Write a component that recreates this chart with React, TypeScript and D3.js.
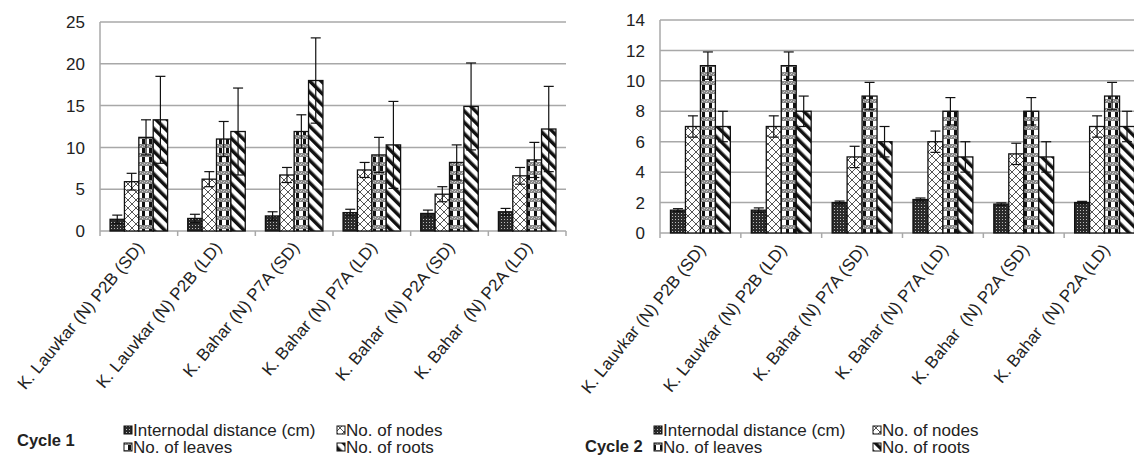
import React from 'react';
import * as d3 from 'd3';

const categories = [
  'K. Lauvkar (N) P2B (SD)',
  'K. Lauvkar (N) P2B (LD)',
  'K. Bahar (N) P7A (SD)',
  'K. Bahar (N) P7A (LD)',
  'K. Bahar  (N) P2A (SD)',
  'K. Bahar  (N) P2A (LD)',
];
const seriesNames = ['Internodal distance (cm)', 'No. of nodes', 'No. of leaves', 'No. of roots'];
const patternIds = ['pInter', 'pNodes', 'pLeaves', 'pRoots'];

// Cycle 1
const c1Internodal = [1.4, 1.5, 1.8, 2.2, 2.1, 2.3];
const c1Nodes = [5.9, 6.2, 6.7, 7.3, 4.4, 6.6];
const c1Leaves = [11.2, 11.0, 11.9, 9.1, 8.2, 8.5];
const c1Roots = [13.3, 11.9, 18.0, 10.3, 14.9, 12.2];
const c1InternodalErr = [0.5, 0.5, 0.5, 0.4, 0.4, 0.4];
const c1NodesErr = [1.0, 0.9, 0.9, 0.9, 0.9, 1.0];
const c1LeavesErr = [2.1, 2.1, 2.0, 2.1, 2.1, 2.1];
const c1RootsErr = [5.2, 5.2, 5.1, 5.2, 5.2, 5.1];
const c1Ticks = [0, 5, 10, 15, 20, 25];

// Cycle 2
const c2Internodal = [1.5, 1.5, 2.0, 2.2, 1.9, 2.0];
const c2Nodes = [7, 7, 5, 6, 5.2, 7];
const c2Leaves = [11, 11, 9, 8, 8, 9];
const c2Roots = [7, 8, 6, 5, 5, 7];
const c2InternodalErr = [0.1, 0.15, 0.1, 0.1, 0.08, 0.08];
const c2NodesErr = [0.7, 0.7, 0.7, 0.7, 0.7, 0.7];
const c2LeavesErr = [0.9, 0.9, 0.9, 0.9, 0.9, 0.9];
const c2RootsErr = [1, 1, 1, 1, 1, 1];
const c2Ticks = [0, 2, 4, 6, 8, 10, 12, 14];

const font = 'Liberation Sans, Arial, sans-serif';
const gridColor = '#a8a8a8';

function Panel({ values, errors, ticks, yMax, left, right, top, bottom, title, titleX, titleY, legendX, legendX2, angle }) {
  const x0 = d3.scaleBand().domain(categories).range([left, right]);
  const x1 = d3.scaleBand().domain(seriesNames).range([0, x0.bandwidth()]).paddingOuter(0.7);
  const y = d3.scaleLinear().domain([0, yMax]).range([bottom, top]);
  const capW = 10;

  return (
    <g>
      {ticks.map((t) => (
        <g key={t}>
          {t > 0 && <line x1={left} x2={right} y1={y(t)} y2={y(t)} stroke={gridColor} strokeWidth={1.5} />}
          <text x={left - 15} y={y(t)} dy="0.36em" textAnchor="end" fontSize={17} fill="#222" fontFamily={font}>{t}</text>
        </g>
      ))}
      <line x1={left} x2={left} y1={top} y2={bottom} stroke={gridColor} strokeWidth={1.5} />
      <line x1={left} x2={right} y1={bottom} y2={bottom} stroke={gridColor} strokeWidth={1.5} />
      {categories.map((c, i) => (
        <line key={'t' + i} x1={x0(c) + x0.bandwidth()} x2={x0(c) + x0.bandwidth()} y1={bottom} y2={bottom + 5} stroke={gridColor} strokeWidth={1.5} />
      ))}
      <line x1={left} x2={left} y1={bottom} y2={bottom + 5} stroke={gridColor} strokeWidth={1.5} />

      {seriesNames.map((s, si) => (
        <g key={s}>
          {categories.map((c, ci) => {
            const v = values[si][ci];
            const e = errors[si][ci];
            const bx = x0(c) + x1(s);
            const w = x1.bandwidth();
            const cx = bx + w / 2;
            return (
              <g key={c}>
                <rect x={bx} y={y(v)} width={w} height={y(0) - y(v)} fill={`url(#${patternIds[si]})`} stroke="#111" strokeWidth={1.3} />
                <line x1={cx} x2={cx} y1={y(v + e)} y2={y(v - e)} stroke="#111" strokeWidth={1.2} />
                <line x1={cx - capW / 2} x2={cx + capW / 2} y1={y(v + e)} y2={y(v + e)} stroke="#111" strokeWidth={1.2} />
                <line x1={cx - capW / 2} x2={cx + capW / 2} y1={y(v - e)} y2={y(v - e)} stroke="#111" strokeWidth={1.2} />
              </g>
            );
          })}
        </g>
      ))}

      {categories.map((c) => (
        <text key={'l' + c} transform={`translate(${x0(c) + x0.bandwidth() / 2 + 6},${bottom + 17}) rotate(${-angle})`}
          textAnchor="end" fontSize={17} fill="#222" fontFamily={font} style={{ whiteSpace: 'pre' }}>{c}</text>
      ))}

      <text x={titleX} y={titleY} fontSize={16.5} fontWeight="bold" fill="#222" fontFamily={font}>{title}</text>
      {seriesNames.map((s, si) => {
        const lx = si % 2 === 0 ? legendX : legendX2;
        const base = si < 2 ? 436 : 453;
        return (
          <g key={'lg' + s}>
            <rect x={lx} y={base - 10} width={8} height={8} fill={`url(#${patternIds[si]})`} stroke="#111" strokeWidth={1} />
            <text x={lx + 9} y={base} fontSize={17} fill="#222" fontFamily={font}>{s}</text>
          </g>
        );
      })}
    </g>
  );
}

export default function App() {
  return (
    <svg width={1134} height={458} style={{ position: 'absolute', left: 0, top: 0, background: '#fff' }}>
      <defs>
        <pattern id="pInter" width={3} height={3} patternUnits="userSpaceOnUse">
          <rect width={3} height={3} fill="#2a2a2a" />
          <rect width={1} height={1} fill="#bbb" />
        </pattern>
        <pattern id="pNodes" width={8} height={8} patternUnits="userSpaceOnUse">
          <rect width={8} height={8} fill="#fff" />
          <path d="M0,0L8,8M8,0L0,8" stroke="#555" strokeWidth={1} />
        </pattern>
        <pattern id="pLeaves" width={7} height={9} patternUnits="userSpaceOnUse">
          <rect width={7} height={9} fill="#fff" />
          <rect y={0} width={7} height={4} fill="#888" />
          <rect x={0} y={1} width={1} height={1} fill="#ccc" />
          <rect x={2} y={2} width={1} height={1} fill="#ccc" />
          <rect x={4} y={1} width={1} height={1} fill="#ccc" />
          <rect x={6} y={2} width={1} height={1} fill="#ccc" />
          <rect x={2} y={4} width={3} height={5} fill="#111" />
        </pattern>
        <pattern id="pRoots" width={8} height={8} patternUnits="userSpaceOnUse" patternTransform="rotate(-45)">
          <rect width={8} height={8} fill="#fff" />
          <rect width={3.5} height={8} fill="#111" />
        </pattern>
      </defs>
      <Panel
        values={[c1Internodal, c1Nodes, c1Leaves, c1Roots]}
        errors={[c1InternodalErr, c1NodesErr, c1LeavesErr, c1RootsErr]}
        ticks={c1Ticks} yMax={25} left={100} right={566} top={22} bottom={231}
        title="Cycle 1" titleX={17} titleY={446} legendX={124} legendX2={337} angle={50}
      />
      <Panel
        values={[c2Internodal, c2Nodes, c2Leaves, c2Roots]}
        errors={[c2InternodalErr, c2NodesErr, c2LeavesErr, c2RootsErr]}
        ticks={c2Ticks} yMax={14} left={660} right={1145} top={20} bottom={233}
        title="Cycle 2" titleX={585} titleY={452} legendX={654} legendX2={873} angle={51}
      />
    </svg>
  );
}
